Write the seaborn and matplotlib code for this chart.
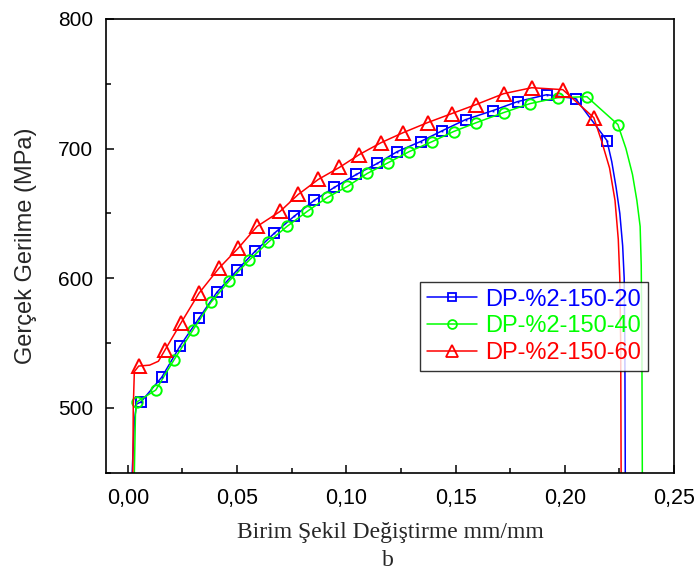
import numpy as np
import pandas as pd
import seaborn as sns
import matplotlib
matplotlib.use("Agg")
import matplotlib.pyplot as plt
from matplotlib.lines import Line2D
from matplotlib.ticker import MultipleLocator, FuncFormatter

# ---------------- data ----------------
labels = ["DP-%2-150-20", "DP-%2-150-40", "DP-%2-150-60"]
colors = ["#0000FF", "#00FF00", "#FF0000"]
markers = ["s", "o", "^"]

# DP-%2-150-20 (blue)
b_head_x = [0.0020, 0.0030, 0.0040]
b_head_y = [450, 490, 503]
b_mark_x = [0.0060, 0.0156, 0.0239, 0.0326, 0.0408, 0.0500, 0.0583, 0.0670, 0.0761,
            0.0853, 0.0945, 0.1046, 0.1142, 0.1234, 0.1340, 0.1440, 0.1546, 0.1670,
            0.1784, 0.1917, 0.2050, 0.2193]
b_mark_y = [504.6, 523.8, 547.7, 569.2, 589.2, 606.2, 620.8, 634.6, 647.7,
            660.0, 670.0, 680.0, 688.5, 697.7, 705.4, 713.8, 722.3, 729.2,
            736.2, 741.5, 738.5, 706.2]
b_tail_x = [0.2215, 0.2235, 0.2252, 0.2265, 0.2272, 0.2275, 0.2277]
b_tail_y = [690, 670, 650, 625, 600, 550, 450]

# DP-%2-150-40 (green)
g_head_x = [0.0030, 0.0035]
g_head_y = [450, 495]
g_mark_x = [0.0041, 0.0128, 0.0211, 0.0298, 0.0381, 0.0463, 0.0555, 0.0642, 0.0729,
            0.0821, 0.0913, 0.1005, 0.1096, 0.1193, 0.1289, 0.1394, 0.1491, 0.1596,
            0.1720, 0.1840, 0.1968, 0.2101, 0.2243]
g_mark_y = [504.6, 513.8, 536.9, 560.0, 581.5, 597.7, 613.8, 627.7, 640.0,
            651.5, 662.3, 670.8, 680.8, 689.2, 697.7, 705.4, 713.1, 720.0,
            727.7, 734.6, 739.2, 740.0, 718.5]
g_tail_x = [0.2280, 0.2310, 0.2330, 0.2345, 0.2350, 0.2353, 0.2355]
g_tail_y = [700, 680, 660, 640, 610, 550, 450]

# DP-%2-150-60 (red)
r_head_x = [0.0023, 0.0025, 0.0030]
r_head_y = [450, 500, 528]
r_mark_x = [0.0050, 0.0170, 0.0243, 0.0326, 0.0417, 0.0505, 0.0592, 0.0697, 0.0780,
            0.0872, 0.0968, 0.1060, 0.1160, 0.1261, 0.1372, 0.1482, 0.1592, 0.1720,
            0.1849, 0.1991, 0.2133]
r_mark_y = [532.3, 544.6, 565.4, 588.5, 607.7, 623.1, 640.0, 651.5, 664.6,
            676.2, 685.4, 695.4, 704.6, 712.3, 720.0, 726.9, 733.8, 742.3,
            746.9, 745.4, 723.8]
r_mid_x = [0.0100, 0.0140]   # flat yield plateau between first two markers
r_mid_y = [533.0, 536.0]
r_tail_x = [0.2170, 0.2205, 0.2230, 0.2245, 0.2252, 0.2256, 0.2258]
r_tail_y = [705, 685, 660, 630, 600, 550, 450]

x_ticks = [0.00, 0.05, 0.10, 0.15, 0.20, 0.25]
y_ticks = [500, 600, 700, 800]

# ---------------- build series ----------------
def build(hx, hy, mx, my, tx, ty, extra=None):
    xs = list(hx) + list(mx) + list(tx)
    ys = list(hy) + list(my) + list(ty)
    if extra is not None:
        xs = xs + list(extra[0]); ys = ys + list(extra[1])
    order = np.argsort(xs, kind="stable")
    return np.array(xs)[order], np.array(ys)[order]

series = [
    build(b_head_x, b_head_y, b_mark_x, b_mark_y, b_tail_x, b_tail_y),
    build(g_head_x, g_head_y, g_mark_x, g_mark_y, g_tail_x, g_tail_y),
    build(r_head_x, r_head_y, r_mark_x, r_mark_y, r_tail_x, r_tail_y, (r_mid_x, r_mid_y)),
]
mark_pts = [(b_mark_x, b_mark_y), (g_mark_x, g_mark_y), (r_mark_x, r_mark_y)]
msizes = [7.5, 7.5, 10]

# ---------------- plot ----------------
sns.set_style("ticks")
plt.rcParams["font.family"] = ["Liberation Sans", "DejaVu Sans"]

fig = plt.figure(figsize=(6.97, 5.71), dpi=100)
ax = fig.add_axes([0.152, 0.172, 0.815, 0.795])

for (xs, ys), (mx, my), c, m, ms in zip(series, mark_pts, colors, markers, msizes):
    df = pd.DataFrame({"x": xs, "y": ys})
    sns.lineplot(data=df, x="x", y="y", sort=False, estimator=None, color=c,
                 lw=1.1, ax=ax, legend=False)
    dm = pd.DataFrame({"x": mx, "y": my})
    sns.lineplot(data=dm, x="x", y="y", sort=False, estimator=None, color=c,
                 lw=0, marker=m, markersize=ms, markerfacecolor="none",
                 markeredgecolor=c, markeredgewidth=1.4, ax=ax, legend=False)

# small centre dots in blue squares
dm = pd.DataFrame({"x": b_mark_x, "y": b_mark_y})
sns.lineplot(data=dm, x="x", y="y", sort=False, estimator=None, color=colors[0],
             lw=0, marker="s", markersize=1.3, markeredgewidth=0, ax=ax, legend=False)

ax.set_xlim(-0.01, 0.25)
ax.set_ylim(450, 800)
ax.set_xticks(x_ticks)
ax.set_yticks(y_ticks)
ax.xaxis.set_minor_locator(MultipleLocator(0.025))
ax.yaxis.set_minor_locator(MultipleLocator(50))
ax.xaxis.set_major_formatter(FuncFormatter(lambda v, p: f"{v:.2f}".replace(".", ",")))
ax.tick_params(which="both", direction="in", top=False, right=False, colors="black",
               width=1.1)
ax.tick_params(which="major", length=6)
ax.tick_params(axis="x", which="major", labelsize=15.5, pad=11)
ax.tick_params(axis="y", which="major", labelsize=15, pad=9)
ax.tick_params(which="minor", length=3.5)
for s in ax.spines.values():
    s.set_visible(True)
    s.set_linewidth(1.2)
    s.set_color("black")

ax.set_ylabel("Gerçek Gerilme (MPa)", fontsize=17, labelpad=15)
ax.set_xlabel("Birim Şekil Değiştirme mm/mm", fontsize=17,
              family=["Liberation Serif", "DejaVu Serif"], labelpad=9)
fig.text(0.557, 0.0, "b", fontsize=17, family=["Liberation Serif", "DejaVu Serif"],
         ha="center", va="bottom")

handles = [Line2D([], [], color=c, lw=1.1, marker=m, markersize=ms * 0.85,
                  markerfacecolor="none", markeredgecolor=c, markeredgewidth=1.3)
           for c, m, ms in zip(colors, markers, msizes)]
leg = ax.legend(handles, labels, loc="upper left", bbox_to_anchor=(0.553, 0.421),
                fontsize=17, frameon=True, fancybox=False, shadow=False,
                handlelength=2.1, handletextpad=0.35, borderpad=0.3,
                labelspacing=0.2, borderaxespad=0)
leg.get_frame().set_edgecolor("black")
leg.get_frame().set_linewidth(1.0)
for t, c in zip(leg.get_texts(), colors):
    t.set_color(c)

fig.savefig("out.png", dpi=100)
